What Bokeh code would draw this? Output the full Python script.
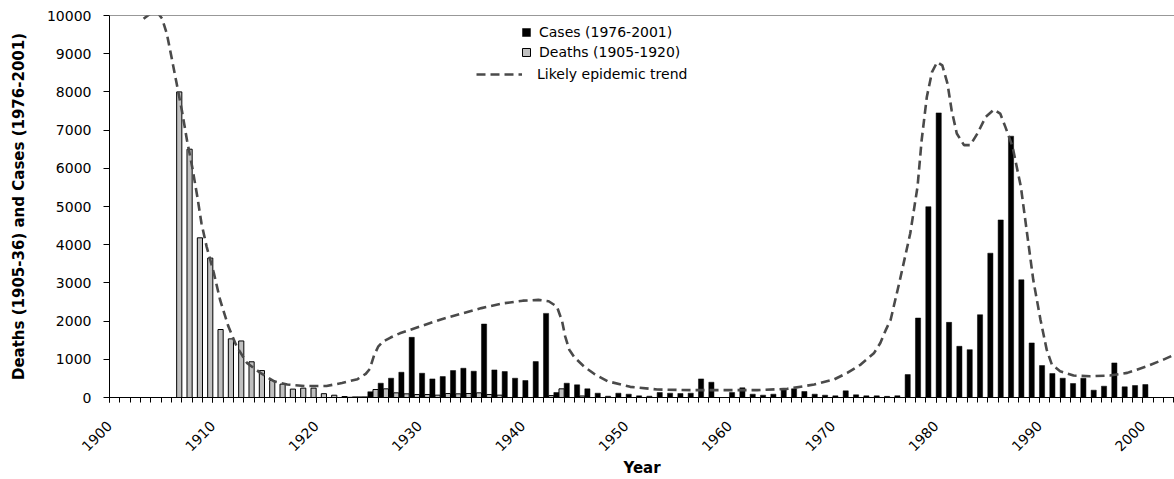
import math
from bokeh.plotting import figure
from bokeh.models import Range1d, FixedTicker, Legend, LegendItem, Span
from bokeh.embed import file_html
from bokeh.resources import INLINE

# ---- data ----
case_years = list(range(1923, 2001))
cases = [10, 20, 150, 374, 505, 661, 1575, 635, 487, 548,
         705, 766, 688, 1923, 722, 679, 505, 444, 940, 2202,
         130, 374, 331, 227, 113, 35, 113, 87, 43, 35,
         130, 113, 104, 113, 487, 400, 0, 130, 253, 87,
         61, 87, 209, 227, 157, 87, 61, 43, 174, 70,
         43, 43, 30, 45, 600, 2080, 4995, 7450, 1967, 1340,
         1253, 2167, 3778, 4648, 6841, 3081, 1428, 836, 627, 505,
         366, 505, 192, 296, 905, 279, 313, 339]

death_years = list(range(1906, 1946))
deaths = [8000, 6500, 4180, 3650, 1780, 1535, 1480, 935, 705, 445,
          350, 220, 245, 245, 100, 60, 25, 15, 15, 209,
          227, 122, 96, 78, 78, 61, 104, 96, 104, 122,
          78, 61, 0, 0, 0, 0, 50, 227, 0, 40]

trend_year = [1903.3, 1904.0, 1904.7, 1905.1, 1905.55, 1906.0, 1906.5, 1907.0, 1907.5, 1908.0,
              1908.5, 1908.9, 1909.4, 1910.1, 1910.7, 1911.5, 1912.3, 1913.3, 1914.6, 1915.9,
              1917.2, 1919.0, 1921.0, 1922.5, 1924.0, 1924.8, 1925.2, 1925.6, 1926.0, 1926.5,
              1927.2, 1928.1, 1930.1, 1932.0, 1934.0, 1936.0, 1938.0, 1940.0, 1941.5, 1942.5,
              1943.3, 1943.8, 1944.1, 1944.5, 1945.0, 1945.9, 1946.9, 1948.2, 1950.4, 1953.0,
              1956.2, 1959.4, 1962.7, 1965.6, 1968.2, 1970.1, 1971.4, 1972.7, 1974.0, 1974.6,
              1975.1, 1975.6, 1976.5, 1977.5, 1978.2, 1978.6, 1979.1, 1979.6, 1980.1, 1980.6,
              1981.1, 1981.5, 1982.0, 1982.7, 1983.3, 1984.0, 1984.8, 1985.6, 1986.2, 1986.7,
              1987.4, 1988.2, 1988.8, 1989.4, 1990.1, 1990.7, 1991.2, 1992.0, 1993.3, 1994.9,
              1996.8, 1998.5, 2000.4, 2002.0, 2003.1]
trend = [9914, 10060, 10060, 9914, 9522, 8912, 8217, 7520, 6736, 6040,
         5257, 4561, 3950, 3256, 2559, 1862, 1340, 906, 645, 426,
         339, 300, 300, 380, 480, 620, 750, 1100, 1330, 1470,
         1570, 1680, 1862, 2037, 2190, 2340, 2460, 2535, 2555, 2520,
         2380, 2000, 1600, 1250, 1050, 817, 620, 426, 279, 209,
         192, 192, 192, 227, 339, 470, 645, 862, 1167, 1428,
         1750, 2037, 3081, 4300, 5518, 6736, 7867, 8520, 8781, 8695,
         8217, 7520, 6911, 6606, 6606, 6911, 7346, 7537, 7433, 7085,
         6562, 5518, 4300, 3081, 2037, 1253, 862, 687, 574, 556,
         574, 645, 817, 992, 1123]

decade_labels = ["1900", "1910", "1920", "1930", "1940", "1950",
                 "1960", "1970", "1980", "1990", "2000"]

FONT = "DejaVu Sans"

p = figure(width=1174, height=479,
           x_range=Range1d(1900, 2003.07), y_range=Range1d(0, 10000),
           output_backend="svg", toolbar_location=None,
           min_border_left=109, min_border_right=0,
           min_border_top=15, min_border_bottom=81)
p.xgrid.visible = False
p.ygrid.visible = False
p.outline_line_color = None
p.background_fill_color = "white"
p.border_fill_color = "white"

# bars: each year's category spans [year, year+1]; cases left half, deaths right half
r_cases = p.vbar(x=[y + 0.25 for y in case_years], width=0.5, top=cases, bottom=0,
                 fill_color="black", line_color="black", line_width=0.5)
r_deaths = p.vbar(x=[y + 0.75 for y in death_years], width=0.5, top=deaths, bottom=0,
                  fill_color="#c0c0c0", line_color="black", line_width=1)

r_trend = p.line(x=trend_year, y=trend, line_color="#4a4a4a", line_width=2.6,
                 line_dash="9 5")

p.add_layout(Span(location=10000, dimension="width", line_color="#333333", line_width=1))

# y axis
ya = p.yaxis[0]
ya.ticker = FixedTicker(ticks=list(range(0, 10001, 1000)))
ya.minor_tick_line_color = None
ya.major_tick_in = 0
ya.major_tick_out = 6
ya.major_tick_line_color = "black"
ya.axis_line_color = "black"
ya.major_label_standoff = 12
ya.major_label_text_font = FONT
ya.major_label_text_font_size = "14px"
ya.major_label_text_color = "black"
ya.axis_label = "Deaths (1905-36) and Cases (1976-2001)"
ya.axis_label_text_font = FONT
ya.axis_label_text_font_style = "bold"
ya.axis_label_text_font_size = "15px"
ya.axis_label_text_color = "black"
ya.axis_label_standoff = 16

# x axis
xa = p.xaxis[0]
decades = [int(s) for s in decade_labels]
xa.ticker = FixedTicker(ticks=decades, minor_ticks=list(range(1900, 2004)))
xa.major_label_overrides = {d: s for d, s in zip(decades, decade_labels)}
xa.major_tick_in = 0
xa.major_tick_out = 5
xa.minor_tick_in = 0
xa.minor_tick_out = 5
xa.major_tick_line_color = "black"
xa.minor_tick_line_color = "black"
xa.axis_line_color = "black"
xa.major_label_orientation = math.pi / 4
xa.major_label_standoff = 21
xa.major_label_text_font = FONT
xa.major_label_text_font_size = "14px"
xa.major_label_text_color = "black"
xa.axis_label = "Year"
xa.axis_label_text_font = FONT
xa.axis_label_text_font_style = "bold"
xa.axis_label_text_font_size = "15px"
xa.axis_label_text_color = "black"
xa.axis_label_standoff = 0

leg1 = Legend(items=[LegendItem(label="Cases (1976-2001)", renderers=[r_cases]),
                     LegendItem(label="Deaths (1905-1920)", renderers=[r_deaths])],
              location=(412, 336), glyph_width=10, glyph_height=10, label_standoff=8,
              spacing=2, padding=0, margin=0, label_height=18,
              border_line_color=None, background_fill_alpha=0,
              label_text_font=FONT, label_text_font_size="14px", label_text_color="black")
leg2 = Legend(items=[LegendItem(label="Likely epidemic trend", renderers=[r_trend])],
              location=(367, 314), glyph_width=46, glyph_height=18, label_standoff=15,
              spacing=0, padding=0, margin=0, label_height=18,
              border_line_color=None, background_fill_alpha=0,
              label_text_font=FONT, label_text_font_size="14px", label_text_color="black")
p.add_layout(leg1)
p.add_layout(leg2)

open("out.html", "w").write(file_html(p, INLINE))
